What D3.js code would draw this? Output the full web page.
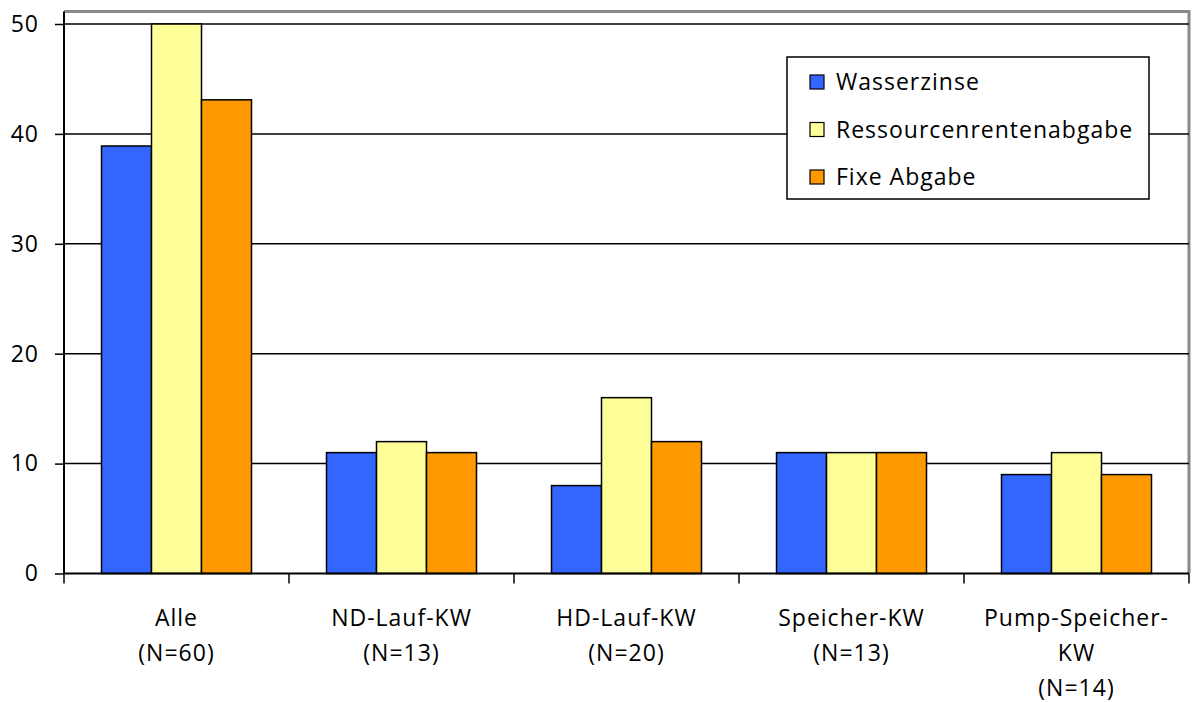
<!DOCTYPE html>
<html><head><meta charset="utf-8">
<script src="https://cdn.jsdelivr.net/npm/d3@7"></script>
<style>
html,body{margin:0;padding:0;background:#fff;}
text{font-family:"Open Sans", sans-serif;fill:#000;letter-spacing:1px;}
</style></head>
<body><svg id="c" width="1197" height="702"></svg>
<script>
const categories = [["Alle","(N=60)"],["ND-Lauf-KW","(N=13)"],["HD-Lauf-KW","(N=20)"],["Speicher-KW","(N=13)"],["Pump-Speicher-","KW","(N=14)"]];
const series = ["Wasserzinse","Ressourcenrentenabgabe","Fixe Abgabe"];
const wasserzinse = [38.9, 11, 8, 11, 9];
const ressourcen = [50, 12, 16, 11, 11];
const fixe = [43.1, 11, 12, 11, 9];
const colors = ["#3366FF","#FFFF99","#FF9900"];
const yTicks = [0,10,20,30,40,50];

const values = [wasserzinse, ressourcen, fixe];
const svg = d3.select("#c");
const L = 64, R = 1189, T = 11.5, B = 573.5;
const fs = 23;

const x0 = d3.scaleBand().domain(d3.range(categories.length)).range([L, R]).padding(0);
const x1 = d3.scaleBand().domain(series).range([0, x0.bandwidth()]).paddingInner(0).paddingOuter(0.75);
const y = d3.scaleLinear().domain([0, 50]).range([B, 24]);

// frame (gray top/right)
svg.append("path").attr("d", `M${L},${T}H${R}V${B}`).attr("fill","none").attr("stroke","#888").attr("stroke-width",3);

// gridlines
svg.append("g").selectAll("line").data(yTicks.filter(d=>d>0)).join("line")
  .attr("x1", L).attr("x2", R).attr("y1", d=>y(d)).attr("y2", d=>y(d))
  .attr("stroke","#000").attr("stroke-width",1.5);

// bars
const g = svg.append("g");
categories.forEach((c, i) => {
  series.forEach((s, j) => {
    const v = values[j][i];
    g.append("rect")
      .attr("x", x0(i) + x1(s)).attr("y", y(v))
      .attr("width", x1.bandwidth()).attr("height", y(0) - y(v))
      .attr("fill", colors[j]).attr("stroke", "#000").attr("stroke-width", 1.5);
  });
});

// y axis
const ya = svg.append("g").attr("transform", `translate(${L},0)`)
  .call(d3.axisLeft(y).tickValues(yTicks).tickSize(9).tickPadding(16).tickFormat(d3.format("d")));
ya.select(".domain").attr("d", `M0,${T}V${B}`).attr("stroke","#000").attr("stroke-width",2);
ya.selectAll(".tick line").attr("stroke","#000").attr("stroke-width",1.5);
ya.selectAll(".tick text").attr("font-size", fs).attr("font-family","'Open Sans', sans-serif").attr("fill","#000");

// x axis
const xa = svg.append("g").attr("transform", `translate(0,${B})`);
xa.append("line").attr("x1", L).attr("x2", R).attr("stroke","#000").attr("stroke-width",2);
xa.selectAll("line.tk").data(d3.range(categories.length + 1)).join("line").attr("class","tk")
  .attr("x1", d => L + d * x0.step()).attr("x2", d => L + d * x0.step())
  .attr("y1", 0).attr("y2", 10).attr("stroke","#000").attr("stroke-width",1.5);
const lab = xa.selectAll("text.cl").data(categories).join("text").attr("class","cl")
  .attr("text-anchor","middle").attr("font-size", fs)
  .attr("transform", (d,i) => `translate(${x0(i) + x0.bandwidth()/2},0)`);
lab.selectAll("tspan").data(d => d).join("tspan")
  .attr("x", 0).attr("y", (d,k) => 52 + k * 35).text(d => d);

// legend
const lg = svg.append("g");
lg.append("rect").attr("x", 787).attr("y", 57).attr("width", 362).attr("height", 142)
  .attr("fill","#fff").attr("stroke","#000").attr("stroke-width",1.5);
series.forEach((s, j) => {
  const cy = 82 + j * 47.5;
  lg.append("rect").attr("x", 810).attr("y", cy - 7).attr("width", 14).attr("height", 14)
    .attr("fill", colors[j]).attr("stroke","#000").attr("stroke-width",1.2);
  lg.append("text").attr("x", 836).attr("y", cy).attr("dy","0.36em").attr("font-size", fs).text(s);
});
</script></body></html>
